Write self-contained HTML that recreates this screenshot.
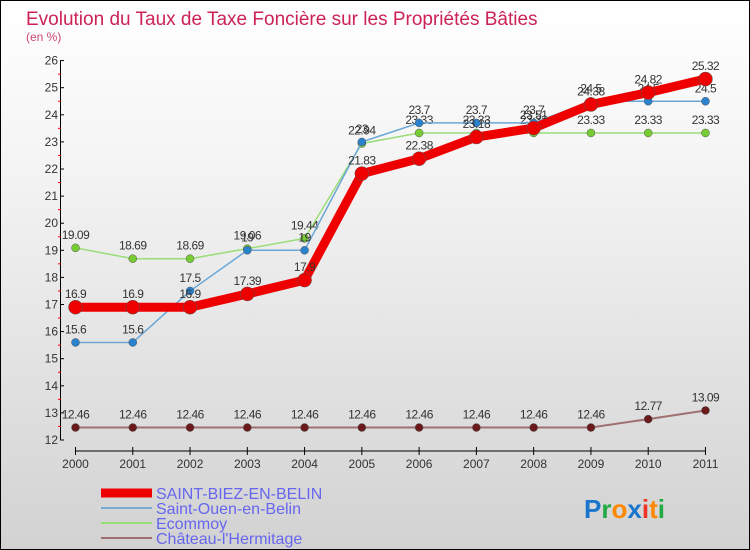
<!DOCTYPE html>
<html><head><meta charset="utf-8"><style>
body{margin:0}
#c{width:748px;height:548px;border:1px solid #000;background:linear-gradient(#ffffff,#f4f4f4 30%,#d2d2d2);position:relative;overflow:hidden;font-family:"Liberation Sans",sans-serif}
</style></head><body>
<div id="c">
<svg id="s" width="748" height="548"></svg>
</div>
<script>
const years=["2000","2001","2002","2003","2004","2005","2006","2007","2008","2009","2010","2011"];
const saintBiez=[16.9,16.9,16.9,17.39,17.9,21.83,22.38,23.18,23.51,24.38,24.82,25.32];
const saintOuen=[15.6,15.6,17.5,19,19,23,23.7,23.7,23.7,24.5,24.5,24.5];
const ecommoy=[19.09,18.69,18.69,19.06,19.44,22.94,23.33,23.33,23.33,23.33,23.33,23.33];
const chateau=[12.46,12.46,12.46,12.46,12.46,12.46,12.46,12.46,12.46,12.46,12.77,13.09];
const yTicks=[12,13,14,15,16,17,18,19,20,21,22,23,24,25,26];
const NS="http://www.w3.org/2000/svg";
const svg=document.getElementById('s');
const X=i=>74.5+i*57.27;
const Y=v=>439-(v-12)*27.1;
function mk(t,a,p){const e=document.createElementNS(NS,t);for(const k in a)e.setAttribute(k,a[k]);(p||svg).appendChild(e);return e;}
function txt(x,y,s,sz,fill,anchor){const e=mk('text',{x:x,y:y,'font-size':sz,fill:fill,'text-anchor':anchor||'middle'});e.textContent=s;return e;}
let t=txt(25,24,"Evolution du Taux de Taxe Foncière sur les Propriétés Bâties",19,"#cc2255","start");

t=txt(25,40,"(en %)",12,"#cc4477","start");

// y axis
let ax=mk('line',{x1:59.5,y1:Y(26),x2:59.5,y2:Y(12),stroke:'#000'});

yTicks.forEach(v=>{
 mk('line',{x1:59,y1:Y(v),x2:63,y2:Y(v),stroke:'#000'});
 if(v<26) mk('line',{x1:57,y1:Y(v+0.5),x2:60,y2:Y(v+0.5),stroke:'#e00'});
 const l=txt(57,Y(v)+4,String(v),12,'#333','end');
 
});
ax=mk('line',{x1:X(0),y1:450,x2:X(11),y2:450,stroke:'#000'});

years.forEach((y,i)=>{
 mk('line',{x1:X(i),y1:446,x2:X(i),y2:454,stroke:'#000'});
 const l=txt(X(i),467,y,12,'#333');
 
});
function series(vals,color,w,r,mcolor,name){
 const g=mk('g',{});
 
 mk('polyline',{points:vals.map((v,i)=>X(i)+','+Y(v)).join(' '),fill:'none',stroke:color,'stroke-width':w,'stroke-linejoin':'round'},g);
 vals.forEach((v,i)=>{
  const c=mk('circle',{cx:X(i),cy:Y(v),r:r,fill:mcolor,stroke:'#555','stroke-width':0.5},g);
  
  const l=txt(X(i),Y(v)-9,String(v),12,'#333',null);l.setAttribute('letter-spacing','-0.5');
  g.appendChild(l);
 });
}
series(chateau,'#a07070',2,4,'#6a1a1a','series-chateau');
series(ecommoy,'#99dd77',1.5,4,'#77cc33','series-ecommoy');
series(saintOuen,'#6aa6d6',1.5,4,'#2a82cc','series-saint-ouen');
series(saintBiez,'#ee0000',9,7,'#ee0000','series-saint-biez');
// legend
const leg=[["SAINT-BIEZ-EN-BELIN","#ee0000",9],["Saint-Ouen-en-Belin","#7aaad0",2],["Ecommoy","#99dd77",2],["Château-l'Hermitage","#a07070",2]];
leg.forEach((d,i)=>{
 const y=492+i*15;
 const g=mk('g',{});
 
 mk('line',{x1:100,y1:y,x2:151,y2:y,stroke:d[1],'stroke-width':d[2]},g);
 const l=txt(155,y+6,d[0],16,'#6666ee','start');g.appendChild(l);
});
// logo
const lg=mk('text',{x:583,y:517,'font-size':26,'font-weight':'bold'});

[["P","#1a75cc"],["r","#22aa44"],["o","#ff8800"],["x","#1a75cc"],["i","#ee3322"],["t","#ff8800"],["i","#22aa44"]].forEach(p=>{const s=mk('tspan',{fill:p[1]},lg);s.textContent=p[0];});
</script>
</body></html>
